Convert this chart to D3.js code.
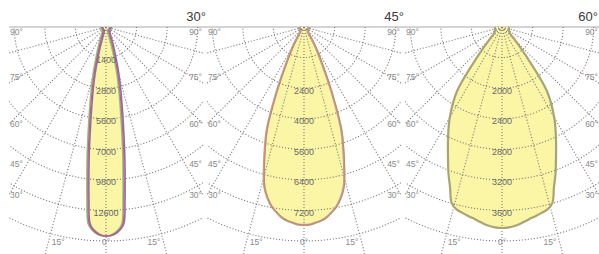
<!DOCTYPE html>
<html>
<head>
<meta charset="utf-8">
<script src="https://cdn.jsdelivr.net/npm/d3@7"></script>
<style>
  body { margin: 0; background: #fff; }
</style>
</head>
<body>
<div id="chart"></div>
<script>
// beam types, one polar diagram each
const beamLabels = ["30°", "45°", "60°"];

// gamma angles (deg from nadir) and intensities in cd
const gammaDeg = [0, 2, 4, 5, 6, 7, 8, 10, 12, 14, 16, 18, 20, 23, 26, 30, 35, 40, 45, 50, 60, 75, 90];
const cd30 = [14360, 14260, 13900, 13500, 11850, 10200, 8760, 6320, 4670, 3450, 2370, 1650, 1150, 720, 500, 370, 320, 290, 290, 290, 290, 290, 290];
const cd45 = [7770, 7750, 7670, 7630, 7580, 7500, 7400, 7190, 6880, 6450, 5710, 4970, 4260, 2740, 1620, 870, 350, 230, 195, 195, 195, 195, 195];
const cd60 = [3945, 3935, 3905, 3885, 3860, 3835, 3810, 3770, 3730, 3690, 3590, 3300, 3070, 2715, 2415, 2050, 1540, 710, 355, 215, 160, 140, 140];

// value at the outer ring of each diagram
const outerValue = [14700, 8400, 4200];

// ring labels (inner rings 1..6)
const ringLabels30 = ["1400", "2800", "5600", "7000", "9800", "12600"];
const ringLabels45 = ["", "2400", "4000", "5600", "6400", "7200"];
const ringLabels60 = ["", "2000", "2400", "2800", "3200", "3600"];

// angle scale labels
const sideAngles = [90, 75, 60, 45, 30];
const bottomAngles = [-15, 0, 15];
const gridAngles = d3.range(-75, 76, 15);

const W = 599, H = 254;
const cy = 27;          // origin of every diagram (lamp position)
const ringCount = 7;
const outerR = 214;     // radius of outer ring
const halfW = 97;       // half width of each diagram box

const series = [cd30, cd45, cd60];
const ringLabels = [ringLabels30, ringLabels45, ringLabels60];
const outlineStyles = [
  [{ c: "#86c486", w: 1.6, dx: -1 }, { c: "#8a6cc8", w: 1.6, dx: 1 }, { c: "#d0585e", w: 1.1, dx: 0 }],
  [{ c: "#b6a48e", w: 2.2, dx: 0 }, { c: "#d9776c", w: 0.8, dx: 0.6 }],
  [{ c: "#a8a574", w: 2.2, dx: 0 }]
];

const svg = d3.select("#chart").append("svg")
  .attr("width", W).attr("height", H)
  .style("font-family", "'Liberation Sans', Arial, sans-serif");

svg.append("rect").attr("width", W).attr("height", H).attr("fill", "#fff");

const cx = d3.scalePoint().domain(d3.range(beamLabels.length)).range([106, 502]);

// top line (90° horizon)
svg.append("line")
  .attr("x1", cx(0) - halfW).attr("x2", W)
  .attr("y1", cy).attr("y2", cy)
  .attr("stroke", "#a8a8a8").attr("stroke-width", 1);

const rad = d => d * Math.PI / 180;

beamLabels.forEach((label, i) => {
  const x0 = cx(i);
  const r = d3.scaleLinear().domain([0, outerValue[i]]).range([0, outerR]);
  const ringVals = d3.range(1, ringCount + 1).map(k => outerValue[i] * k / ringCount);

  const g = svg.append("g").attr("transform", `translate(${x0},${cy})`);

  svg.append("clipPath").attr("id", `clip-${i}`)
    .append("rect")
    .attr("x", -halfW).attr("y", 0)
    .attr("width", halfW * 2).attr("height", H - cy);

  // points of the curve, left half (negative gamma) then right half
  const pts = gammaDeg.slice().reverse().map((a, j) => ({ a: -a, v: series[i][gammaDeg.length - 1 - j] }))
    .concat(gammaDeg.slice(1).map((a, j) => ({ a: a, v: series[i][j + 1] })));

  const curve = d3.lineRadial()
    .angle(d => Math.PI - rad(d.a))
    .radius(d => r(d.v))
    .curve(d3.curveCatmullRom.alpha(0.5));

  // lobe fill
  g.append("path")
    .attr("d", curve(pts) + "Z")
    .attr("fill", "#fbf5a6")
    .attr("stroke", "none");

  // grid
  const grid = g.append("g").attr("clip-path", `url(#clip-${i})`)
    .attr("fill", "none")
    .attr("stroke", "#7c7c7c")
    .attr("stroke-width", 1.1)
    .attr("stroke-dasharray", "1.1,1.9");

  grid.selectAll("circle.ring")
    .data(ringVals)
    .join("circle")
    .attr("class", "ring")
    .attr("r", d => r(d));

  grid.selectAll("line.spoke")
    .data(gridAngles)
    .join("line")
    .attr("class", "spoke")
    .attr("x1", 0).attr("y1", 0)
    .attr("x2", d => Math.sin(rad(d)) * 400)
    .attr("y2", d => Math.cos(rad(d)) * 400);

  // lobe outline (measured planes)
  outlineStyles[i].forEach(s => {
    g.append("path")
      .attr("d", curve(pts))
      .attr("transform", `translate(${s.dx},0)`)
      .attr("fill", "none")
      .attr("stroke", s.c)
      .attr("stroke-width", s.w)
      .attr("stroke-linejoin", "round");
  });

  // ring value labels
  g.selectAll("text.ringlab")
    .data(ringLabels[i].map((t, k) => ({ t, v: ringVals[k] })).filter(d => d.t))
    .join("text")
    .attr("class", "ringlab")
    .attr("x", 0)
    .attr("y", d => r(d.v) + 3)
    .attr("dominant-baseline", "middle")
    .attr("text-anchor", "middle")
    .style("font-family", "'Liberation Sans Narrow', 'Liberation Sans', sans-serif")
    .style("font-size", "9px")
    .attr("fill", "#6a6a6a")
    .text(d => d.t);

  // side angle labels
  [-1, 1].forEach(side => {
    g.selectAll(`text.side${side}`)
      .data(sideAngles)
      .join("text")
      .attr("class", `side${side}`)
      .attr("x", side * (halfW - 1))
      .attr("y", d => Math.max(6, 195 * Math.cos(rad(d))))
      .attr("dominant-baseline", "middle")
      .attr("text-anchor", side < 0 ? "start" : "end")
      .style("font-size", "8.5px")
      .attr("fill", "#8a8a8a")
      .text(d => d + "°");
  });

  // bottom angle labels on the outer ring
  g.selectAll("text.bottom")
    .data(bottomAngles)
    .join("text")
    .attr("class", "bottom")
    .attr("x", d => 185 * Math.sin(rad(d)))
    .attr("y", outerR + 1.5)
    .attr("dominant-baseline", "middle")
    .attr("text-anchor", "middle")
    .style("font-size", "8.5px")
    .attr("fill", "#8a8a8a")
    .text(d => Math.abs(d) + "°");

  // beam title
  svg.append("text")
    .attr("x", Math.min(x0 + 100, W - 1))
    .attr("y", 21)
    .attr("text-anchor", "end")
    .style("font-size", "13px")
    .attr("fill", "#3a3a3a")
    .text(label);
});
</script>
</body>
</html>
